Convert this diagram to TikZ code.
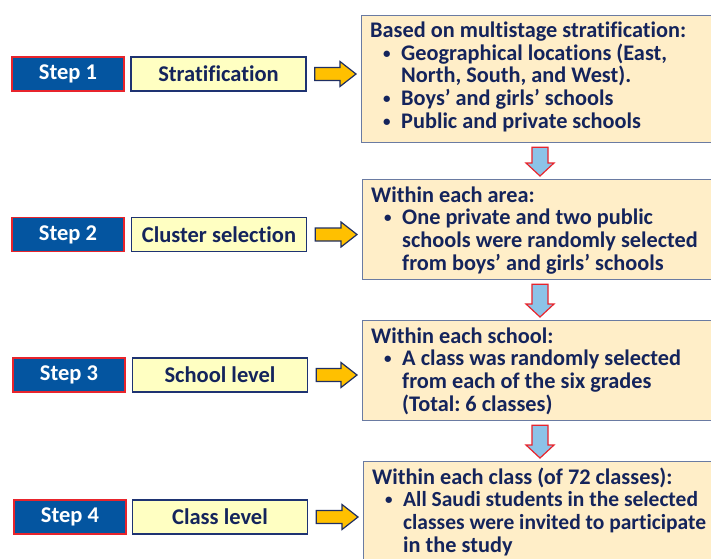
\documentclass[tikz,border=0pt]{standalone}
\usepackage{fontspec}
\setmainfont{Carlito}[Ligatures=NoCommon]
\usetikzlibrary{calc}
\frenchspacing

\definecolor{navy}{HTML}{14245C}
\definecolor{stepblue}{HTML}{0455A0}
\definecolor{stepred}{HTML}{E8242C}
\definecolor{labelfill}{HTML}{FFFFC2}
\definecolor{labeledge}{HTML}{1E3372}
\definecolor{infofill}{HTML}{FFEEC8}
\definecolor{infoedge}{HTML}{6A7BA2}
\definecolor{downfill}{HTML}{8CC3E8}
\definecolor{sidefill}{HTML}{FFC000}
\definecolor{sideedge}{HTML}{1F2F62}

% horizontal block arrow from a label box to an info box
\newcommand\blockright[2]{%
  \draw[sidearr] let \p1=($(#1.east)+(8,0)$), \p2=($(#2.west |- #1.east)+(-5,0)$) in
    (\x1,\y1+6.5pt) -- (\x2-16pt,\y1+6.5pt) -- (\x2-16pt,\y1+12.5pt) -- (\x2,\y1)
    -- (\x2-16pt,\y1-12.5pt) -- (\x2-16pt,\y1-6.5pt) -- (\x1,\y1-6.5pt) -- cycle;}
% vertical block arrow from one info box down to the next
\newcommand\blockdown[2]{%
  \draw[downarr] let \p1=($(dcol |- #1.south)+(0,4)$), \p2=($(dcol |- #2.north)+(0,-3)$) in
    (\x1-8pt,\y1) -- (\x1-8pt,\y2+13pt) -- (\x1-14pt,\y2+13pt) -- (\x1,\y2)
    -- (\x1+14pt,\y2+13pt) -- (\x1+8pt,\y2+13pt) -- (\x1+8pt,\y1) -- cycle;}
% bulleted first line and indented continuation line
\newcommand\bitem{\hspace*{13pt}\makebox[18pt][l]{\raisebox{2pt}{\fontsize{15}{15}\selectfont •}}}
\newcommand\bcont{\hspace*{31pt}}
\newcommand\infolines[1]{\parbox[t]{360pt}{\raggedright\fontsize{22.3}{22.7}\selectfont\bfseries #1}}
\newcommand\tight[1]{{\fontsize{21.5}{22.7}\selectfont #1}}

\begin{document}
\begin{tikzpicture}[x=1pt,y=-1pt,
  every node/.style={font=\fontsize{22.5}{23}\selectfont\bfseries},
  stepbox/.style={draw=stepred, fill=stepblue, line width=1.5pt, text=white,
    minimum width=112pt, minimum height=34pt, inner sep=0pt},
  labelbox/.style={draw=labeledge, fill=labelfill, line width=1.5pt, text=navy,
    minimum width=175pt, minimum height=34pt, inner sep=0pt},
  infobox/.style={draw=infoedge, fill=infofill, line width=1.3pt,
    minimum width=360pt, anchor=north west, inner sep=0pt},
  infotext/.style={anchor=base west, inner sep=0pt, text=navy},
  sidearr/.style={draw=sideedge, fill=sidefill, line width=1.2pt, line join=miter},
  downarr/.style={draw=stepred, fill=downfill, line width=1.2pt, line join=miter}]

\useasboundingbox (0,0) rectangle (711,558);
\clip (0,0) rectangle (711,558);
\fill[white] (0,0) rectangle (711,558);

\coordinate (dcol) at (540,0);

% left column: step number and step name
\node[stepbox] (s1) at (68,74) {Step 1};
\node[labelbox] (l1) at (218.5,74) {Stratification};
\node[stepbox] (s2) at (68,234.5) {Step 2};
\node[labelbox] (l2) at (219,234.5) {Cluster selection};
\node[stepbox] (s3) at (69,375) {Step 3};
\node[labelbox] (l3) at (220,375) {School level};
\node[stepbox] (s4) at (70,517) {Step 4};
\node[labelbox] (l4) at (220,517) {Class level};

% right column: description boxes
\node[infobox, minimum height=127pt] (b1) at (361,15) {};
\node[infobox, minimum height=100pt] (b2) at (362,179) {};
\node[infobox, minimum height=100pt] (b3) at (362,320) {};
\node[infobox, minimum height=120pt] (b4) at (363,461) {};

\node[infotext] (t1) at ($(b1.north west)+(9,22.5)$) {\infolines{%
  Based on multistage stratification:\\
  \bitem Geographical locations (East,\\
  \bcont North, South, and West).\\
  \bitem Boys’ and girls’ schools\\
  \bitem Public and private schools}};
\node[infotext] (t2) at ($(b2.north west)+(9,23)$) {\infolines{%
  Within each area:\\
  \bitem One private and two public\\
  \bcont schools were randomly selected\\
  \bcont from boys’ and girls’ schools}};
\node[infotext] (t3) at ($(b3.north west)+(9,23)$) {\infolines{%
  Within each school:\\
  \bitem A class was randomly selected\\
  \bcont from each of the six grades\\
  \bcont (Total: 6 classes)}};
\node[infotext] (t4) at ($(b4.north west)+(9,23)$) {\infolines{%
  Within each class (of 72 classes):\\
  \bitem \tight{All Saudi students in the selected}\\
  \bcont \tight{classes were invited to participate}\\
  \bcont in the study}};

% connectors
\blockright{l1}{b1}
\blockright{l2}{b2}
\blockright{l3}{b3}
\blockright{l4}{b4}
\blockdown{b1}{b2}
\blockdown{b2}{b3}
\blockdown{b3}{b4}
\end{tikzpicture}
\end{document}
